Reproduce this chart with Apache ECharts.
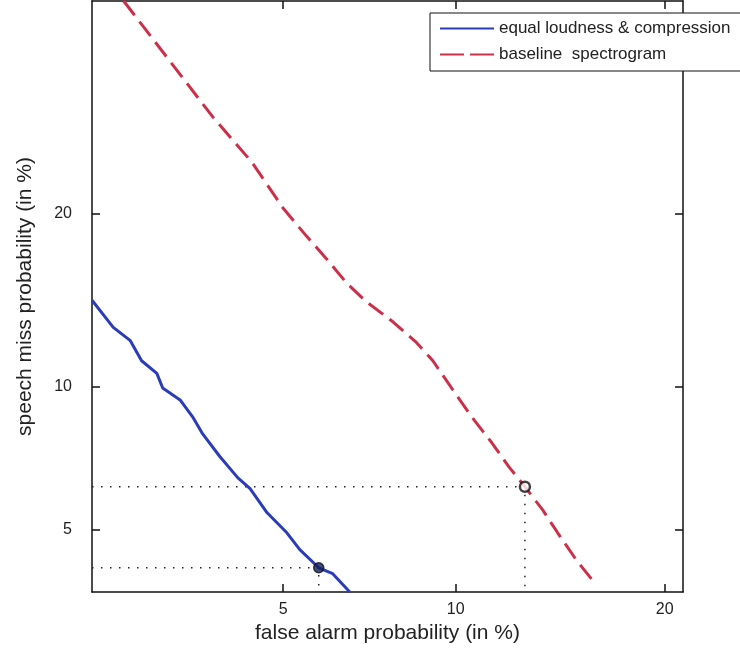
<!DOCTYPE html>
<html>
<head>
<meta charset="utf-8">
<script src="https://cdn.jsdelivr.net/npm/echarts@6/dist/echarts.min.js"></script>
<style>
  html, body { margin: 0; padding: 0; background: #fff; }
  #chart { width: 740px; height: 652px; }
</style>
</head>
<body>
<div id="chart"></div>
<script>
"use strict"
// DET curve, values in percent
const X_LIMITS = [2.03, 21.1];
const Y_LIMITS = [3.57, 38.1];
const TICKS = [5, 10, 20];

const blueFa   = [2.03, 2.26, 2.46, 2.60, 2.80, 2.88, 3.13, 3.32, 3.48, 3.77, 4.09, 4.32, 4.66, 5.08, 5.37, 5.82, 6.17, 6.62];
const blueMiss = [14.4, 12.9, 12.2, 11.2, 10.6, 9.94, 9.42, 8.72, 8.05, 7.22, 6.51, 6.17, 5.46, 4.92, 4.50, 4.08, 3.95, 3.57];

const redFa   = [2.38, 3.65, 4.36, 4.99, 5.53, 6.02, 6.54, 7.09, 7.87, 8.63, 9.18, 9.89, 10.6, 11.4, 12.1, 12.8, 13.6, 14.3, 15.2, 16.2];
const redMiss = [38.1, 27.5, 23.8, 20.4, 18.4, 16.9, 15.4, 14.3, 13.2, 12.1, 11.2, 9.86, 8.72, 7.72, 6.88, 6.23, 5.54, 4.92, 4.26, 3.72];

// operating points [fa, miss]
const bluePoint = [5.82, 4.08];
const redPoint  = [12.8, 6.23];

// inverse normal cdf (Acklam)
function probit(pct) {
    var p = pct / 100;
    var a = [-3.969683028665376e+01, 2.209460984245205e+02, -2.759285104469687e+02, 1.383577518672690e+02, -3.066479806614716e+01, 2.506628277459239e+00];
    var b = [-5.447609879822406e+01, 1.615858368580409e+02, -1.556989798598866e+02, 6.680131188771972e+01, -1.328068155288572e+01];
    var c = [-7.784894002430293e-03, -3.223964580411365e-01, -2.400758277161838e+00, -2.549732980886233e+00, 4.374664141464968e+00, 2.938163982698783e+00];
    var d = [7.784695709041462e-03, 3.224671290700398e-01, 2.445134137142996e+00, 3.754408661907416e+00];
    var plow = 0.02425, q, r;
    if (p < plow) {
        q = Math.sqrt(-2 * Math.log(p));
        return (((((c[0]*q+c[1])*q+c[2])*q+c[3])*q+c[4])*q+c[5]) / ((((d[0]*q+d[1])*q+d[2])*q+d[3])*q+1);
    }
    if (p <= 1 - plow) {
        q = p - 0.5; r = q * q;
        return (((((a[0]*r+a[1])*r+a[2])*r+a[3])*r+a[4])*r+a[5])*q / (((((b[0]*r+b[1])*r+b[2])*r+b[3])*r+b[4])*r+1);
    }
    q = Math.sqrt(-2 * Math.log(1 - p));
    return -(((((c[0]*q+c[1])*q+c[2])*q+c[3])*q+c[4])*q+c[5]) / ((((d[0]*q+d[1])*q+d[2])*q+d[3])*q+1);
}

function toPairs(fa, miss) {
    return fa.map(function (f, i) { return [probit(f), probit(miss[i])]; });
}

const tickZ = TICKS.map(probit);
function tickLabel(v) {
    var best = 0;
    for (var i = 0; i < tickZ.length; i++) {
        if (Math.abs(tickZ[i] - v) < Math.abs(tickZ[best] - v)) best = i;
    }
    return String(TICKS[best]);
}

const FONT = 'Liberation Sans';

function makeAxis(range, pos, showLabel, name) {
    return {
        type: 'value',
        position: pos,
        min: probit(range[0]),
        max: probit(range[1]),
        name: name,
        nameLocation: 'middle',
        nameGap: pos === 'left' ? 56 : 31,
        nameTextStyle: { color: '#222', fontSize: 21, fontFamily: FONT },
        axisLine: { show: true, onZero: false, lineStyle: { color: '#111', width: 1.5 } },
        axisTick: { show: true, inside: true, length: 8, customValues: tickZ, lineStyle: { color: '#111', width: 1.5 } },
        axisLabel: {
            show: showLabel, customValues: tickZ, formatter: tickLabel,
            color: '#222', fontSize: 16, fontFamily: FONT, margin: pos === 'left' ? 20 : 10
        },
        splitLine: { show: false }
    };
}

const chart = echarts.init(document.getElementById('chart'), null, { renderer: 'canvas' });

const xMin = X_LIMITS[0], yMin = Y_LIMITS[0];

chart.setOption({
    animation: false,
    backgroundColor: '#fff',
    grid: { left: 92, right: 57, top: 1, bottom: 60 },
    xAxis: [
        makeAxis(X_LIMITS, 'bottom', true, 'false alarm probability (in %)'),
        makeAxis(X_LIMITS, 'top', false, '')
    ],
    yAxis: [
        makeAxis(Y_LIMITS, 'left', true, 'speech miss probability (in %)'),
        makeAxis(Y_LIMITS, 'right', false, '')
    ],
    legend: {
        orient: 'vertical',
        left: 430, top: 13,
        padding: [7, 14, 8, 9],
        itemWidth: 54, itemHeight: 17, itemGap: 9,
        backgroundColor: '#fff',
        borderColor: '#111', borderWidth: 1, borderRadius: 0,
        itemStyle: { opacity: 0 },
        textStyle: { color: '#222', fontSize: 17, fontFamily: FONT },
        data: [
            { name: 'equal loudness & compression' },
            { name: 'baseline  spectrogram', lineStyle: { type: [24, 6] } }
        ]
    },
    series: [
        {
            type: 'line', silent: true, symbol: 'none', z: 1,
            data: [[probit(xMin), probit(redPoint[1])], [probit(redPoint[0]), probit(redPoint[1])], [probit(redPoint[0]), probit(yMin)]],
            lineStyle: { color: '#222', width: 1.5, type: [1.5, 7.5] }
        },
        {
            type: 'line', silent: true, symbol: 'none', z: 1,
            data: [[probit(xMin), probit(bluePoint[1])], [probit(bluePoint[0]), probit(bluePoint[1])], [probit(bluePoint[0]), probit(yMin)]],
            lineStyle: { color: '#222', width: 1.5, type: [1.5, 7.5] }
        },
        {
            name: 'equal loudness & compression',
            type: 'line', symbol: 'none', z: 3,
            data: toPairs(blueFa, blueMiss),
            itemStyle: { color: '#2a3cb8' },
            lineStyle: { color: '#2a3cb8', width: 3 }
        },
        {
            name: 'baseline  spectrogram',
            type: 'line', symbol: 'none', z: 3,
            data: toPairs(redFa, redMiss),
            itemStyle: { color: '#cc3049' },
            lineStyle: { color: '#cc3049', width: 3, type: [18, 8] }
        },
        {
            type: 'scatter', z: 5, symbolSize: 10,
            data: [[probit(redPoint[0]), probit(redPoint[1])]],
            itemStyle: { color: '#fff', borderColor: '#111', borderWidth: 2.5 }
        },
        {
            type: 'scatter', z: 5, symbolSize: 10,
            data: [[probit(bluePoint[0]), probit(bluePoint[1])]],
            itemStyle: { color: '#14205a', borderColor: '#111', borderWidth: 1.5 }
        }
    ]
});
</script>
</body>
</html>
